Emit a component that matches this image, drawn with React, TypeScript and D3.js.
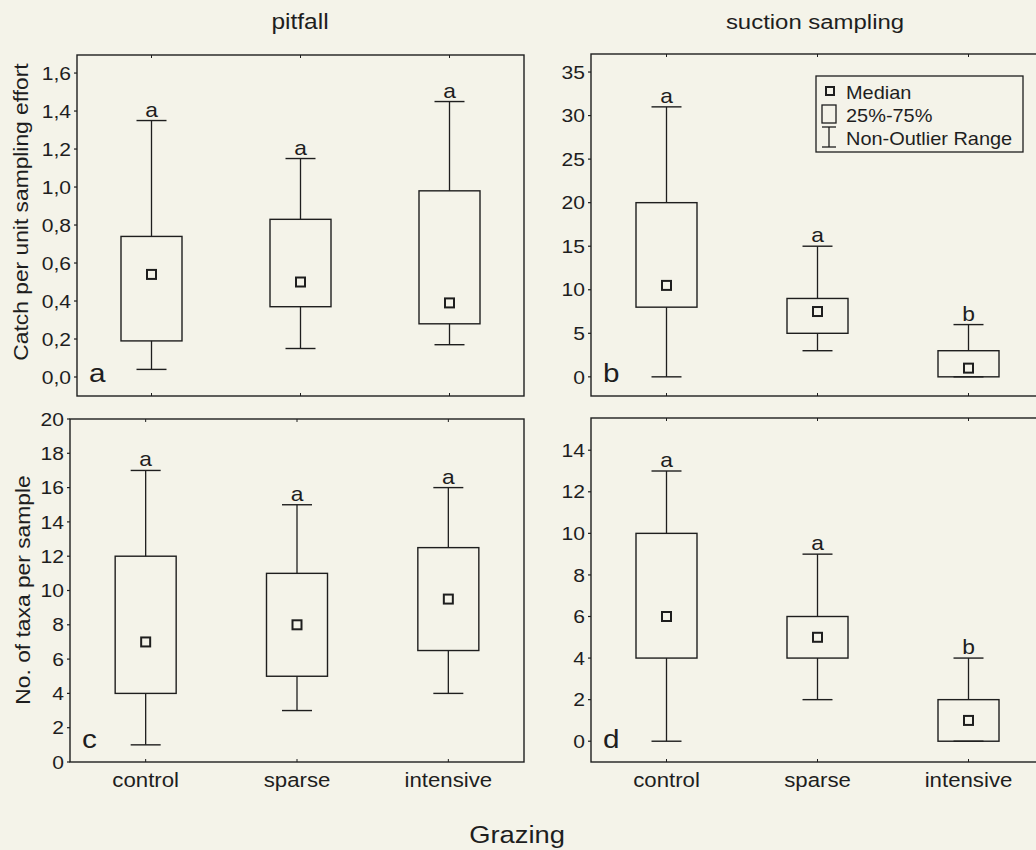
import * as d3 from "d3";

// box stats per group: [min, q1, median, q3, max]
const groups = ["control", "sparse", "intensive"];

const pitfallCatch = [
  [0.04, 0.19, 0.54, 0.74, 1.35],
  [0.15, 0.37, 0.5, 0.83, 1.15],
  [0.17, 0.28, 0.39, 0.98, 1.45],
];
const suctionCatch = [
  [0, 8, 10.5, 20, 31],
  [3, 5, 7.5, 9, 15],
  [0, 0, 1, 3, 6],
];
const pitfallTaxa = [
  [1, 4, 7, 12, 17],
  [3, 5, 8, 11, 15],
  [4, 6.5, 9.5, 12.5, 16],
];
const suctionTaxa = [
  [0, 4, 6, 10, 13],
  [2, 4, 5, 6, 9],
  [0, 0, 1, 2, 4],
];

const pitfallCatchLetters = ["a", "a", "a"];
const suctionCatchLetters = ["a", "a", "b"];
const pitfallTaxaLetters = ["a", "a", "a"];
const suctionTaxaLetters = ["a", "a", "b"];

const catchTicks = [0, 0.2, 0.4, 0.6, 0.8, 1.0, 1.2, 1.4, 1.6];
const suctionCatchTicks = [0, 5, 10, 15, 20, 25, 30, 35];
const pitfallTaxaTicks = [0, 2, 4, 6, 8, 10, 12, 14, 16, 18, 20];
const suctionTaxaTicks = [0, 2, 4, 6, 8, 10, 12, 14];

const BG = "#f4f3e9";
const INK = "#1e1e1e";
const FONT = "'Liberation Sans', Arial, sans-serif";
const SX = 1.14; // the scanned figure's lettering is a bit wider than Arial

function T({ x, y, size, anchor = "start", rot = 0, dy, children }: any) {
  return (
    <text
      transform={`translate(${x},${y}) rotate(${rot}) scale(${SX},1)`}
      textAnchor={anchor}
      fontSize={size}
      dy={dy}
    >
      {children}
    </text>
  );
}

const panels = [
  { tag: "a", stats: pitfallCatch, letters: pitfallCatchLetters, ticks: catchTicks, fmt: (v: number) => d3.format(".1f")(v).replace(".", ","),
    left: 77, right: 524, top: 55, bottom: 396, domain: [-0.1, 1.695] },
  { tag: "b", stats: suctionCatch, letters: suctionCatchLetters, ticks: suctionCatchTicks, fmt: (v: number) => String(v),
    left: 591, right: 1044, top: 54, bottom: 396, domain: [-2.2, 37.07] },
  { tag: "c", stats: pitfallTaxa, letters: pitfallTaxaLetters, ticks: pitfallTaxaTicks, fmt: (v: number) => String(v),
    left: 70, right: 524, top: 419, bottom: 762, domain: [0, 20] },
  { tag: "d", stats: suctionTaxa, letters: suctionTaxaLetters, ticks: suctionTaxaTicks, fmt: (v: number) => String(v),
    left: 591, right: 1044, top: 418, bottom: 762, domain: [-1, 15.55] },
];

function Panel({ p, showX }: { p: any; showX: boolean }) {
  const xs = d3.scaleBand().domain(groups).range([p.left, p.right]);
  const y = d3.scaleLinear().domain(p.domain).range([p.bottom, p.top]);
  const bw = 61;
  const cap = 30;
  const ms = 9;
  return (
    <g>
      <rect x={p.left} y={p.top} width={p.right - p.left} height={p.bottom - p.top} fill="none" stroke={INK} strokeWidth={1.4} />
      {p.ticks.map((t: number) => (
        <g key={t}>
          <line x1={p.left - 3} x2={p.left} y1={y(t)} y2={y(t)} stroke={INK} strokeWidth={1.2} />
          <T x={p.left - 6} y={y(t)} dy="0.36em" anchor="end" size={18.5}>{p.fmt(t)}</T>
        </g>
      ))}
      {groups.map((g, i) => {
        const cx = xs(g)! + xs.bandwidth() / 2;
        const [mn, q1, md, q3, mx] = p.stats[i];
        return (
          <g key={g}>
            <line x1={cx} x2={cx} y1={p.top} y2={p.top + 3} stroke={INK} />
            <line x1={cx} x2={cx} y1={p.bottom} y2={p.bottom - 3} stroke={INK} />
            <line x1={cx} x2={cx} y1={y(mx)} y2={y(q3)} stroke={INK} strokeWidth={1.3} />
            <line x1={cx} x2={cx} y1={y(q1)} y2={y(mn)} stroke={INK} strokeWidth={1.3} />
            <line x1={cx - cap / 2} x2={cx + cap / 2} y1={y(mx)} y2={y(mx)} stroke={INK} strokeWidth={1.4} />
            <line x1={cx - cap / 2} x2={cx + cap / 2} y1={y(mn)} y2={y(mn)} stroke={INK} strokeWidth={1.4} />
            <rect x={cx - bw / 2} y={y(q3)} width={bw} height={y(q1) - y(q3)} fill="none" stroke={INK} strokeWidth={1.4} />
            <rect x={cx - ms / 2} y={y(md) - ms / 2} width={ms} height={ms} fill={BG} stroke={INK} strokeWidth={2} />
            <T x={cx} y={y(mx) - 4} anchor="middle" size={20}>{p.letters[i]}</T>
            {showX && <T x={cx} y={787} anchor="middle" size={19.5}>{g}</T>}
          </g>
        );
      })}
      <T x={p.left + 12} y={p.bottom - 14} size={26}>{p.tag}</T>
    </g>
  );
}

export default function App() {
  return (
    <svg width={1036} height={850} style={{ position: "absolute", left: 0, top: 0 }} fontFamily={FONT} fill={INK}>
      <rect width={1036} height={850} fill={BG} />
      <T x={300} y={29} anchor="middle" size={21.5}>pitfall</T>
      <T x={815} y={29} anchor="middle" size={21}>suction sampling</T>
      <T x={28} y={212} rot={-90} anchor="middle" size={20}>Catch per unit sampling effort</T>
      <T x={30} y={590} rot={-90} anchor="middle" size={20}>No. of taxa per sample</T>
      {panels.map((p, i) => (
        <Panel key={p.tag} p={p} showX={i >= 2} />
      ))}
      <g>
        <rect x={816} y={76} width={207} height={76} fill={BG} stroke={INK} strokeWidth={1.3} />
        <rect x={826} y={87} width={8} height={8} fill={BG} stroke={INK} strokeWidth={2} />
        <T x={846} y={99} size={17.5}>Median</T>
        <rect x={822} y={105} width={14} height={18} fill="none" stroke={INK} strokeWidth={1.3} />
        <T x={846} y={122} size={17.5}>25%-75%</T>
        <line x1={829} x2={829} y1={127} y2={147} stroke={INK} strokeWidth={1.3} />
        <line x1={822} x2={836} y1={127} y2={127} stroke={INK} strokeWidth={1.3} />
        <line x1={822} x2={836} y1={147} y2={147} stroke={INK} strokeWidth={1.3} />
        <T x={846} y={145} size={17.5}>Non-Outlier Range</T>
      </g>
      <T x={517} y={843} anchor="middle" size={24}>Grazing</T>
    </svg>
  );
}
